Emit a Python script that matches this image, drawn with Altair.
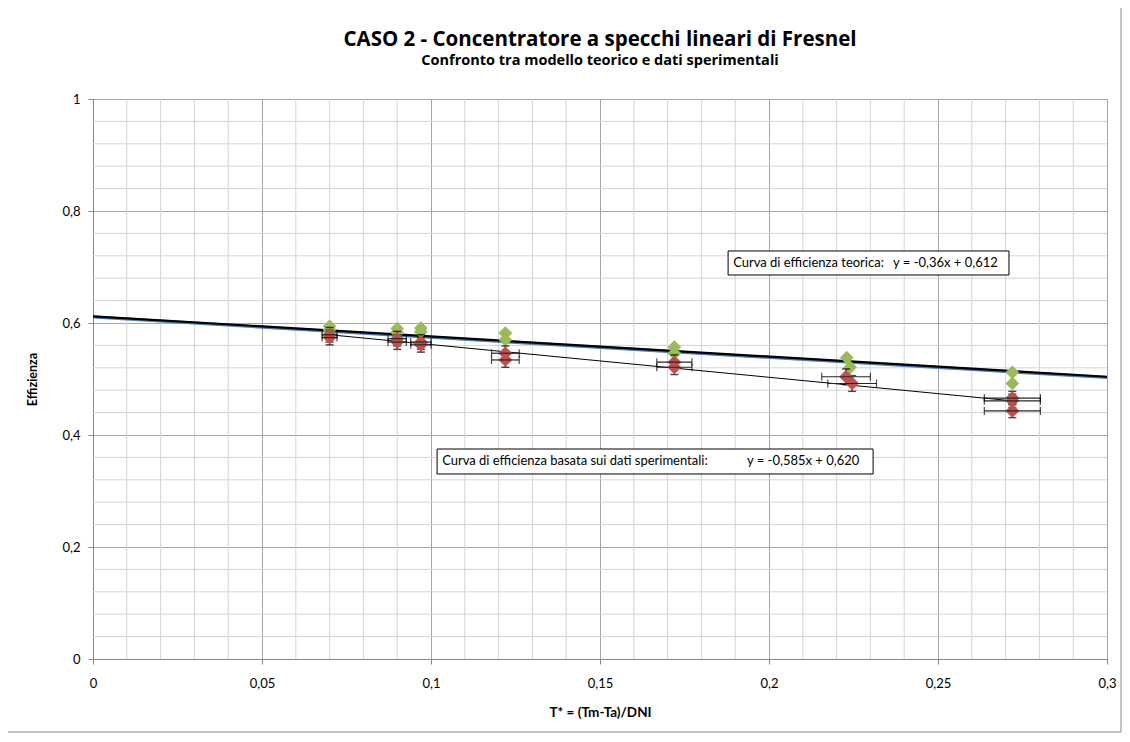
import altair as alt
import pandas as pd

FONT = "Lato"
TFONT = "Open Sans"

# --- data ---
green_x = [0.070, 0.070, 0.090, 0.090, 0.097, 0.097, 0.122, 0.122, 0.172, 0.172, 0.223, 0.224, 0.272, 0.272]
green_y = [0.594, 0.588, 0.590, 0.583, 0.591, 0.584, 0.582, 0.570, 0.557, 0.546, 0.538, 0.521, 0.512, 0.492]

red_x = [0.070, 0.070, 0.090, 0.090, 0.097, 0.097, 0.122, 0.122, 0.172, 0.172, 0.2228, 0.2246, 0.272, 0.272, 0.272]
red_y = [0.579, 0.574, 0.572, 0.566, 0.566, 0.561, 0.546, 0.534, 0.530, 0.521, 0.504, 0.492, 0.466, 0.461, 0.443]
red_xerr = [0.0022, 0.0022, 0.0027, 0.0027, 0.0030, 0.0030, 0.0041, 0.0041, 0.0052, 0.0052, 0.0072, 0.0072, 0.0083, 0.0083, 0.0083]
red_yerr = [0.013, 0.013, 0.013, 0.013, 0.013, 0.013, 0.013, 0.013, 0.013, 0.013, 0.014, 0.014, 0.012, 0.012, 0.012]

theo_x = [0.0, 0.3]
theo_y = [0.612, 0.504]
blue_x = [0.0, 0.3]
blue_y = [0.6105, 0.5025]
exp_x = [0.070, 0.272]
exp_y = [0.579, 0.461]

x_ticks = [0, 0.05, 0.1, 0.15, 0.2, 0.25, 0.3]
y_ticks = [0, 0.2, 0.4, 0.6, 0.8, 1.0]
minor_x = [0.01, 0.02, 0.03, 0.04, 0.06, 0.07, 0.08, 0.09, 0.11, 0.12, 0.13, 0.14,
           0.16, 0.17, 0.18, 0.19, 0.21, 0.22, 0.23, 0.24, 0.26, 0.27, 0.28, 0.29]
minor_y = [0.04, 0.08, 0.12, 0.16, 0.24, 0.28, 0.32, 0.36, 0.44, 0.48, 0.52, 0.56,
           0.64, 0.68, 0.72, 0.76, 0.84, 0.88, 0.92, 0.96]

box_x0 = [0.1879, 0.1018]
box_x1 = [0.2710, 0.2308]
box_y0 = [0.7286, 0.3750]
box_y1 = [0.6857, 0.3304]
ann_label = ["Curva di efficienza teorica:", "Curva di efficienza basata sui dati sperimentali:"]
ann_label_x = [0.1894, 0.1033]
ann_eq = ["y = -0,36x + 0,612", "y = -0,585x + 0,620"]
ann_eq_x = [0.2367, 0.1935]
ann_y = [0.7071, 0.3536]

# --- tables ---
green = pd.DataFrame({"x": green_x, "y": green_y})
red = pd.DataFrame({"x": red_x, "y": red_y, "xe": red_xerr, "ye": red_yerr})
red["xlo"] = red["x"] - red["xe"]
red["xhi"] = red["x"] + red["xe"]
red["ylo"] = red["y"] - red["ye"]
red["yhi"] = red["y"] + red["ye"]
theo = pd.DataFrame({"x": theo_x, "y": theo_y})
blue = pd.DataFrame({"x": blue_x, "y": blue_y})
expl = pd.DataFrame({"x": exp_x, "y": exp_y})
mx = pd.DataFrame({"x": minor_x})
my = pd.DataFrame({"y": minor_y})
boxes = pd.DataFrame({"x0": box_x0, "x1": box_x1, "y0": box_y0, "y1": box_y1})
ann = pd.DataFrame({"label": ann_label, "lx": ann_label_x, "eq": ann_eq, "ex": ann_eq_x, "y": ann_y})

label_expr = "replace(format(datum.value, '~g'), '.', ',')"

xscale = alt.Scale(domain=[0, 0.3], nice=False, zero=False)
yscale = alt.Scale(domain=[0, 1], nice=False, zero=False)

X = alt.X("x:Q", scale=xscale, axis=alt.Axis(
    values=x_ticks, labelExpr=label_expr, title="T* = (Tm-Ta)/DNI",
    grid=True, gridColor="#a6a6a6", domainColor="#868686", tickColor="#868686",
    tickSize=5, labelPadding=13, titlePadding=15, labelFontSize=13,
    titleFontSize=13.5, titleFontWeight="bold", labelFont=FONT, titleFont=FONT,
    labelColor="#000000", titleColor="#000000", labelFlush=False))
Y = alt.Y("y:Q", scale=yscale, axis=alt.Axis(
    values=y_ticks, labelExpr=label_expr, title="Effizienza",
    grid=True, gridColor="#a6a6a6", domainColor="#868686", tickColor="#868686",
    tickSize=5, labelPadding=8, titlePadding=22, labelFontSize=13,
    titleFontSize=12.5, titleFontWeight="bold", labelFont=FONT, titleFont=FONT,
    labelColor="#000000", titleColor="#000000", labelFlush=False))

frame = alt.Chart(pd.DataFrame({"a": [0]})).mark_rect(
    fill="white", fillOpacity=0, stroke="#868686", strokeWidth=1).encode(
    x=alt.value(-86), x2=alt.value(1028), y=alt.value(-92), y2=alt.value(633))

minor_v = alt.Chart(mx).mark_rule(color="#d4d4d4", strokeWidth=1).encode(
    x=alt.X("x:Q", scale=xscale))
minor_h = alt.Chart(my).mark_rule(color="#d4d4d4", strokeWidth=1).encode(
    y=alt.Y("y:Q", scale=yscale))

base_axes = alt.Chart(theo).mark_line(color="#4f81bd", opacity=0).encode(x=X, y=Y)

blue_line = alt.Chart(blue).mark_line(color="#4a7ebb", strokeWidth=3).encode(
    x=alt.X("x:Q", scale=xscale), y=alt.Y("y:Q", scale=yscale))
theo_line = alt.Chart(theo).mark_line(color="#000000", strokeWidth=2.2).encode(
    x=alt.X("x:Q", scale=xscale), y=alt.Y("y:Q", scale=yscale))
exp_line = alt.Chart(expl).mark_line(color="#000000", strokeWidth=1).encode(
    x=alt.X("x:Q", scale=xscale), y=alt.Y("y:Q", scale=yscale))

green_pts = alt.Chart(green).mark_point(
    shape="diamond", filled=True, color="#9bbb59", size=190, opacity=1).encode(
    x=alt.X("x:Q", scale=xscale), y=alt.Y("y:Q", scale=yscale))

ebar_v = alt.Chart(red).mark_rule(color="#000000", strokeWidth=1).encode(
    x=alt.X("x:Q", scale=xscale), y=alt.Y("ylo:Q", scale=yscale), y2="yhi:Q")
cap_v_lo = alt.Chart(red).mark_tick(orient="horizontal", size=8, thickness=1.5, color="#000000").encode(
    x=alt.X("x:Q", scale=xscale), y=alt.Y("ylo:Q", scale=yscale))
cap_v_hi = alt.Chart(red).mark_tick(orient="horizontal", size=8, thickness=1.5, color="#000000").encode(
    x=alt.X("x:Q", scale=xscale), y=alt.Y("yhi:Q", scale=yscale))

red_pts = alt.Chart(red).mark_point(
    shape="diamond", filled=True, color="#c0504d", size=190, opacity=1).encode(
    x=alt.X("x:Q", scale=xscale), y=alt.Y("y:Q", scale=yscale))

ebar_h = alt.Chart(red).mark_rule(color="#262626", strokeWidth=1.2).encode(
    y=alt.Y("y:Q", scale=yscale), x=alt.X("xlo:Q", scale=xscale), x2="xhi:Q")
cap_h_lo = alt.Chart(red).mark_tick(orient="vertical", size=8, thickness=1.2, color="#000000").encode(
    y=alt.Y("y:Q", scale=yscale), x=alt.X("xlo:Q", scale=xscale))
cap_h_hi = alt.Chart(red).mark_tick(orient="vertical", size=8, thickness=1.2, color="#000000").encode(
    y=alt.Y("y:Q", scale=yscale), x=alt.X("xhi:Q", scale=xscale))

box_rect = alt.Chart(boxes).mark_rect(fill="white", stroke="#000000", strokeWidth=1).encode(
    x=alt.X("x0:Q", scale=xscale), x2="x1:Q", y=alt.Y("y0:Q", scale=yscale), y2="y1:Q")
ann_lab = alt.Chart(ann).mark_text(align="left", baseline="middle", font=FONT, fontSize=13, color="#000000").encode(
    x=alt.X("lx:Q", scale=xscale), y=alt.Y("y:Q", scale=yscale), text="label:N")
ann_eqt = alt.Chart(ann).mark_text(align="left", baseline="middle", font=FONT, fontSize=13, color="#000000").encode(
    x=alt.X("ex:Q", scale=xscale), y=alt.Y("y:Q", scale=yscale), text="eq:N")

chart = alt.layer(
    frame, minor_v, minor_h, base_axes, blue_line, theo_line, exp_line,
    green_pts, ebar_v, cap_v_lo, cap_v_hi, red_pts, ebar_h, cap_h_lo, cap_h_hi,
    box_rect, ann_lab, ann_eqt,
).properties(
    width=1014, height=560,
    title=alt.TitleParams(
        text="CASO 2 - Concentratore a specchi lineari di Fresnel",
        subtitle="Confronto tra modello teorico e dati sperimentali",
        font=TFONT, fontSize=20.5, fontWeight="bold", color="#000000",
        subtitleFont=TFONT, subtitleFontSize=14.5, subtitleFontWeight="bold",
        subtitleColor="#000000", anchor="middle",
        offset=-61, subtitlePadding=4),
    autosize=alt.AutoSizeParams(type="none"),
    padding={"left": 85, "top": 91, "right": 15, "bottom": 75},
).configure_view(stroke="#a6a6a6", strokeWidth=1).configure(background="white")

chart.save("out.html", embed_options={"renderer": "svg", "actions": False})
